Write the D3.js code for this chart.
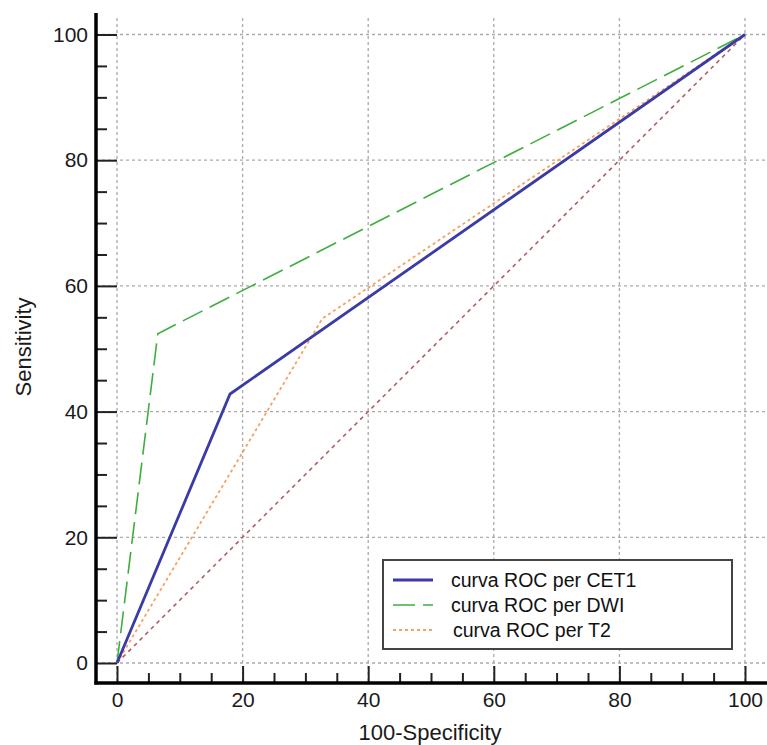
<!DOCTYPE html>
<html>
<head>
<meta charset="utf-8">
<script src="https://cdn.jsdelivr.net/npm/d3@7"></script>
<style>
  body { margin: 0; background: #fff; }
  svg { display: block; }
</style>
</head>
<body>
<div id="chart"></div>
<script>
// ROC curves (100-Specificity, Sensitivity)
var seriesNames = ["curva ROC per CET1", "curva ROC per DWI", "curva ROC per T2"];
var cet1Points = [[0, 0], [18, 42.8], [100, 100]];
var dwiPoints = [[0, 0], [6.5, 52.4], [100, 100]];
var t2Points = [[0, 0], [32.7, 54.8], [100, 100]];
var refPoints = [[0, 0], [100, 100]];
var majorTicks = [0, 20, 40, 60, 80, 100];
var minorTicks = d3.range(0, 101, 5).filter(function(v) { return v % 20 !== 0; });

var w = 767, h = 745;
var axisX = 96, axisY = 683;
var font = "Liberation Sans, Arial, sans-serif";

var svg = d3.select("#chart").append("svg")
  .attr("width", w)
  .attr("height", h);

var x = d3.scaleLinear().domain([0, 100]).range([117, 745]);
var y = d3.scaleLinear().domain([0, 100]).range([663, 34.5]);

// grid
svg.append("g").selectAll("line")
  .data(majorTicks)
  .enter().append("line")
  .attr("x1", function(d) { return x(d); })
  .attr("x2", function(d) { return x(d); })
  .attr("y1", 18)
  .attr("y2", axisY)
  .attr("stroke", "#aaa")
  .attr("stroke-width", 1.3)
  .attr("stroke-dasharray", "3,3");

svg.append("g").selectAll("line")
  .data(majorTicks)
  .enter().append("line")
  .attr("x1", axisX)
  .attr("x2", w)
  .attr("y1", function(d) { return y(d); })
  .attr("y2", function(d) { return y(d); })
  .attr("stroke", "#aaa")
  .attr("stroke-width", 1.3)
  .attr("stroke-dasharray", "3,3");

// axes
var xAxis = svg.append("g")
  .attr("transform", "translate(0," + axisY + ")")
  .call(d3.axisBottom(x).tickValues(majorTicks).tickSize(-17).tickPadding(17));
var xMinor = svg.append("g")
  .attr("transform", "translate(0," + axisY + ")")
  .call(d3.axisBottom(x).tickValues(minorTicks).tickSize(-10).tickFormat(""));
var yAxis = svg.append("g")
  .attr("transform", "translate(" + axisX + ",0)")
  .call(d3.axisLeft(y).tickValues(majorTicks).tickSize(-21).tickPadding(8));
var yMinor = svg.append("g")
  .attr("transform", "translate(" + axisX + ",0)")
  .call(d3.axisLeft(y).tickValues(minorTicks).tickSize(-11).tickFormat(""));

[xAxis, xMinor, yAxis, yMinor].forEach(function(g) {
  g.select(".domain").remove();
  g.selectAll(".tick line").attr("stroke", "#222").attr("stroke-width", 2);
  g.selectAll("text")
    .attr("font-family", font)
    .attr("font-size", 21)
    .attr("fill", "#1a1a1a");
});
xAxis.selectAll("text").attr("dy", "0.35em");

// axis lines
svg.append("line")
  .attr("x1", axisX).attr("x2", axisX)
  .attr("y1", 13).attr("y2", axisY + 1.5)
  .attr("stroke", "#000").attr("stroke-width", 3.5);
svg.append("line")
  .attr("x1", axisX - 1.5).attr("x2", w)
  .attr("y1", axisY).attr("y2", axisY)
  .attr("stroke", "#000").attr("stroke-width", 3.5);

// curves
var line = d3.line()
  .x(function(d) { return x(d[0]); })
  .y(function(d) { return y(d[1]); });

svg.append("path")
  .datum(refPoints)
  .attr("d", line)
  .attr("fill", "none")
  .attr("stroke", "#b0605c")
  .attr("stroke-width", 1.6)
  .attr("stroke-dasharray", "4,4");

var styles = [
  {color: "#3b3ba6", width: 2.8, dash: null},
  {color: "#3fae3f", width: 1.6, dash: "22,8"},
  {color: "#f7a060", width: 1.8, dash: "3,3"}
];
var series = [dwiPoints, t2Points, cet1Points];
var order = [1, 2, 0];

order.forEach(function(k, i) {
  svg.append("path")
    .datum(series[i])
    .attr("d", line)
    .attr("fill", "none")
    .attr("stroke", styles[k].color)
    .attr("stroke-width", styles[k].width)
    .attr("stroke-dasharray", styles[k].dash);
});

// axis titles
svg.append("text")
  .attr("x", 430)
  .attr("y", 740)
  .attr("text-anchor", "middle")
  .attr("font-family", font)
  .attr("font-size", 22)
  .attr("fill", "#1a1a1a")
  .text("100-Specificity");

svg.append("text")
  .attr("transform", "translate(31,347) rotate(-90)")
  .attr("text-anchor", "middle")
  .attr("font-family", font)
  .attr("font-size", 22)
  .attr("fill", "#1a1a1a")
  .text("Sensitivity");

// legend
var legend = svg.append("g").attr("transform", "translate(383,560)");
legend.append("rect")
  .attr("width", 349)
  .attr("height", 89)
  .attr("fill", "#fff")
  .attr("stroke", "#444")
  .attr("stroke-width", 2);

var items = legend.selectAll("g.item")
  .data(seriesNames)
  .enter().append("g")
  .attr("class", "item")
  .attr("transform", function(d, i) { return "translate(0," + (20 + i * 25) + ")"; });

items.append("line")
  .attr("x1", 10).attr("x2", 50)
  .attr("y1", 0).attr("y2", 0)
  .attr("stroke", function(d, i) { return styles[i].color; })
  .attr("stroke-width", function(d, i) { return styles[i].width; })
  .attr("stroke-dasharray", function(d, i) { return styles[i].dash; });

items.append("text")
  .attr("x", function(d, i) { return i === 2 ? 70 : 68; })
  .attr("dy", "0.35em")
  .attr("font-family", font)
  .attr("font-size", 19.5)
  .attr("fill", "#111")
  .text(function(d) { return d; });
</script>
</body>
</html>
